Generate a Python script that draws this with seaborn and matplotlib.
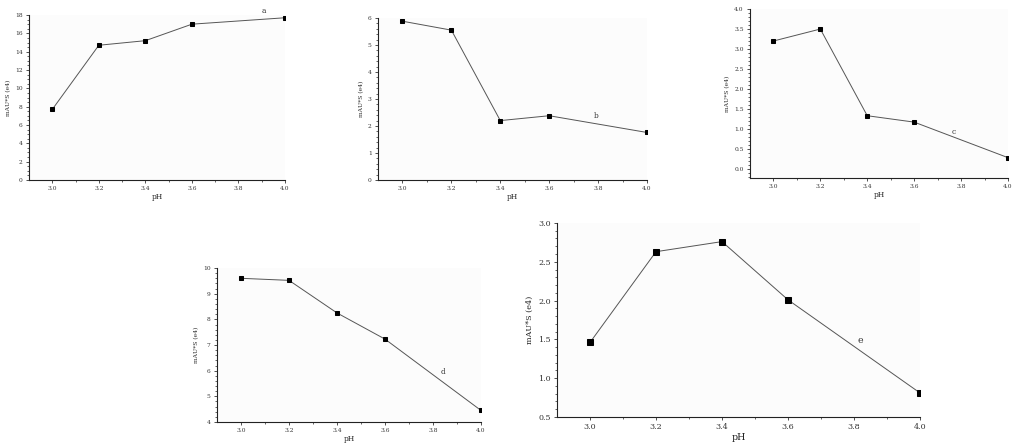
import numpy as np
import pandas as pd
import matplotlib.pyplot as plt
import seaborn as sns

# pH steps shared by every panel
ph = [3.0, 3.2, 3.4, 3.6, 3.8, 4.0]
ph_pts = [3.0, 3.2, 3.4, 3.6, 4.0]

# peak area (mAU*S, e4)
area_a = [7.7, 14.7, 15.2, 17.0, 17.7]
area_b = [5.88, 5.55, 2.2, 2.38, 1.76]
area_c = [3.2, 3.5, 1.33, 1.17, 0.28]
area_d = [9.6, 9.52, 8.25, 7.23, 4.45]
area_e = [1.46, 2.63, 2.76, 2.01, 0.81]

tags = ["a", "b", "c", "d", "e"]
tag_pos = [(3.91, 18.2), (3.79, 2.3), (3.77, 0.88), (3.84, 5.87), (3.82, 1.45)]

sns.set_style("ticks")
plt.rcParams['font.family'] = ['DejaVu Serif']

fig = plt.figure(figsize=(10.14, 4.44), dpi=100)

# panel boxes [left, bottom, width, height], y limits, y ticks, decimals, font size
panels = [
    ([0.0286, 0.5946, 0.2525, 0.3716], (0, 18), np.arange(0, 19, 2), 0, 4.3),
    ([0.3728, 0.5946, 0.2653, 0.3649], (0, 6), np.arange(0, 7, 1), 0, 4.3),
    ([0.7396, 0.5990, 0.2545, 0.3806], (-0.23, 4.0), np.arange(0, 4.01, 0.5), 1, 4.3),
    ([0.2140, 0.0495, 0.2604, 0.3468], (4, 10), np.arange(4, 11, 1), 0, 4.3),
    ([0.5493, 0.0608, 0.3580, 0.4370], (0.5, 3.0), np.arange(0.5, 3.01, 0.5), 1, 5.8),
]
series = [area_a, area_b, area_c, area_d, area_e]

for (box, ylim, yt, dec, fs), vals, tag, tp in zip(panels, series, tags, tag_pos):
    ax = fig.add_axes(box)
    df = pd.DataFrame({"pH": ph_pts, "area": vals})
    big = fs > 5
    sns.lineplot(data=df, x="pH", y="area", ax=ax, color="#555555", lw=0.7,
                 marker="s", markersize=4.2 if big else 3.2,
                 markerfacecolor="black", markeredgecolor="black")
    ax.set_xlim(2.9, 4.0)
    ax.set_ylim(*ylim)
    ax.set_xticks(ph)
    ax.set_xticklabels([f"{v:.1f}" for v in ph])
    ax.set_yticks(yt)
    ax.set_yticklabels([f"{v:.{dec}f}" for v in yt])
    ax.minorticks_on()
    ax.set_xticks(np.arange(3.1, 4.0, 0.2), minor=True)
    ax.tick_params(labelsize=fs, length=2.5, width=0.6, colors="#333333", pad=2)
    ax.tick_params(which="minor", length=1.5, width=0.5)
    sns.despine(ax=ax)
    for s in ["left", "bottom"]:
        ax.spines[s].set_linewidth(0.8)
        ax.spines[s].set_color("#222222")
    ax.set_facecolor("#fcfcfc")
    ax.set_xlabel("pH", fontsize=fs + 1, labelpad=1)
    ax.set_ylabel("mAU*S (e4)", fontsize=fs, labelpad=3)
    ax.text(tp[0], tp[1], tag, fontsize=fs + 1, color="#333333", ha="center")

fig.savefig("out.png", dpi=100, facecolor="white")
